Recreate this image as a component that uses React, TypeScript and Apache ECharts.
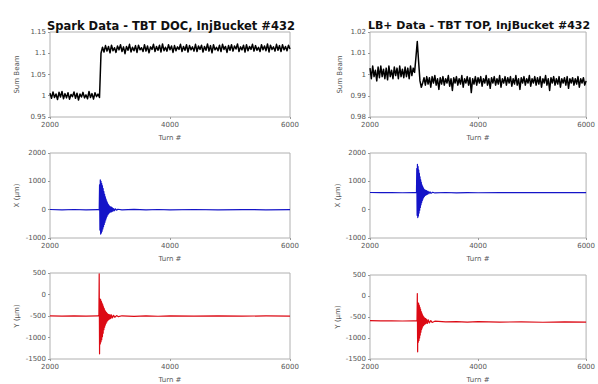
import React, { useEffect, useRef } from "react";
import * as echarts from "echarts";

const TURN_START = 2000;
const TURN_STEP = 25;
const xTicks = [2000, 4000, 6000];

const titleDoc = "Spark Data - TBT DOC, InjBucket #432";
const titleTop = "LB+ Data - TBT TOP, InjBucket #432";

// Sum signal, Spark DOC (one value every 25 turns, 2000..6000)
const sumDoc = [
  1.006, 0.994, 1.009, 0.996, 1.004, 0.991, 1.008, 0.997,
  1.010, 0.993, 1.005, 0.995, 1.007, 0.992, 1.003, 0.998,
  1.009, 0.994, 1.006, 0.990, 1.004, 0.997, 1.008, 0.995,
  1.002, 0.993, 1.010, 0.996, 1.005, 0.992, 1.007, 0.998,
  1.004, 0.996,
  1.100, 1.114, 1.103, 1.118, 1.105, 1.116, 1.101, 1.119,
  1.106, 1.113, 1.102, 1.117, 1.108, 1.120, 1.104, 1.115,
  1.099, 1.116, 1.107, 1.121, 1.103, 1.114, 1.106, 1.118,
  1.102, 1.119, 1.108, 1.113, 1.104, 1.120, 1.105, 1.117,
  1.101, 1.115, 1.109, 1.121, 1.104, 1.116, 1.107, 1.119,
  1.103, 1.122, 1.106, 1.114, 1.105, 1.120, 1.108, 1.117,
  1.102, 1.118, 1.106, 1.115, 1.109, 1.121, 1.104, 1.116,
  1.107, 1.120, 1.103, 1.118, 1.108, 1.115, 1.105, 1.121,
  1.104, 1.117, 1.109, 1.119, 1.103, 1.116, 1.107, 1.122,
  1.105, 1.118, 1.101, 1.120, 1.108, 1.114, 1.106, 1.119,
  1.104, 1.121, 1.109, 1.116, 1.102, 1.118, 1.107, 1.120,
  1.105, 1.117, 1.110, 1.122, 1.104, 1.115, 1.108, 1.119,
  1.103, 1.120, 1.106, 1.116, 1.109, 1.121, 1.105, 1.118,
  1.107, 1.114, 1.104, 1.120, 1.108, 1.117, 1.106, 1.122,
  1.103, 1.119, 1.109, 1.115, 1.105, 1.121, 1.107, 1.118,
  1.104, 1.120, 1.108, 1.116, 1.106, 1.119, 1.110,
];

// Sum signal, LB+ TOP (one value every 25 turns, 2000..6000)
const sumTop = [
  1.003, 0.998, 1.004, 0.999, 1.002, 0.997, 1.0035, 0.9985,
  1.004, 0.999, 1.0025, 0.998, 1.003, 0.9975, 1.004, 0.999,
  1.002, 0.998, 1.0035, 0.9995, 1.003, 0.998, 1.004, 0.999,
  1.0025, 0.9985, 1.0035, 0.999, 1.003, 0.998, 1.004, 0.9995,
  1.003, 1.001,
  1.008, 1.0155, 1.006, 0.997, 0.994,
  0.996, 0.9985, 0.995, 0.999, 0.9955, 0.9985, 0.994, 0.999,
  0.996, 0.9995, 0.995, 0.998, 0.993, 0.9985, 0.9955, 0.999,
  0.995, 0.998, 0.996, 0.9995, 0.9945, 0.998, 0.9925, 0.9985,
  0.996, 0.999, 0.995, 0.998, 0.9955, 0.9995, 0.994, 0.998,
  0.996, 0.999, 0.995, 0.9985, 0.9915, 0.998, 0.9955, 0.999,
  0.995, 0.9985, 0.996, 0.999, 0.9945, 0.998, 0.996, 0.9995,
  0.995, 0.998, 0.9935, 0.9985, 0.996, 0.999, 0.995, 0.998,
  0.9955, 0.9995, 0.994, 0.998, 0.996, 0.999, 0.995, 0.9985,
  0.996, 0.999, 0.9945, 0.998, 0.9955, 0.9995, 0.995, 0.998,
  0.993, 0.9985, 0.996, 0.999, 0.995, 0.998, 0.996, 0.9995,
  0.9945, 0.998, 0.996, 0.999, 0.995, 0.9985, 0.9955, 0.999,
  0.994, 0.998, 0.996, 0.9995, 0.995, 0.998, 0.9925, 0.9985,
  0.996, 0.999, 0.995, 0.998, 0.9955, 0.999, 0.994, 0.998,
  0.996, 0.9985, 0.995, 0.999, 0.9935, 0.998, 0.996, 0.9985,
  0.995, 0.998, 0.9955, 0.999, 0.994, 0.998, 0.996, 0.9985,
  0.995, 0.997,
];

// X position, Spark DOC: [turn, um]
const xDoc: [number, number][] = [
  [2000, 5], [2200, -6], [2400, 5], [2600, -5], [2800, 4], [2820, -10],
  [2826, 880], [2832, -720], [2838, 1050], [2844, -860], [2850, 1000], [2856, -820],
  [2862, 920], [2868, -760], [2874, 840], [2880, -680], [2886, 740], [2892, -600],
  [2898, 640], [2904, -520], [2910, 540], [2916, -440], [2922, 450], [2928, -360],
  [2934, 370], [2940, -290], [2946, 300], [2952, -230], [2958, 240], [2964, -180],
  [2970, 190], [2976, -140], [2982, 150], [2988, -110], [2994, 120], [3000, -90],
  [3008, 100], [3016, -80], [3024, 90], [3032, -70], [3040, 60], [3050, -50],
  [3060, 40], [3075, -35], [3090, 30], [3110, -20], [3130, 15],
  [3200, -10], [3400, 8], [3600, -8], [3800, 6], [4000, -6], [4400, 5],
  [4800, -5], [5200, 4], [5600, -4], [6000, 3],
];

// X position, LB+ TOP: [turn, um]
const xTop: [number, number][] = [
  [2000, 605], [2200, 598], [2400, 604], [2600, 597], [2800, 603], [2860, 600],
  [2866, 1450], [2872, -200], [2878, 1600], [2884, -280], [2890, 1520], [2896, -220],
  [2902, 1400], [2908, -120], [2914, 1280], [2920, -20], [2926, 1160], [2932, 80],
  [2938, 1050], [2944, 170], [2950, 960], [2956, 250], [2962, 880], [2968, 320],
  [2974, 820], [2980, 380], [2986, 770], [2992, 430], [2998, 730], [3006, 470],
  [3014, 700], [3022, 500], [3030, 680], [3040, 520], [3050, 670], [3060, 540],
  [3075, 650], [3090, 560], [3110, 630], [3130, 575], [3160, 615], [3200, 590],
  [3400, 606], [3600, 596], [3800, 604], [4000, 597], [4400, 603], [4800, 598],
  [5200, 602], [5600, 598], [6000, 601],
];

// Y position, Spark DOC: [turn, um]
const yDoc: [number, number][] = [
  [2000, -496], [2200, -505], [2400, -497], [2600, -504], [2800, -497], [2815, -500],
  [2820, 480], [2826, -1380], [2832, -100], [2838, -1150], [2844, -120], [2850, -1100],
  [2856, -160], [2862, -1050], [2868, -200], [2874, -980], [2880, -240], [2886, -900],
  [2892, -290], [2898, -820], [2904, -330], [2910, -760], [2916, -370], [2922, -710],
  [2928, -400], [2934, -670], [2940, -420], [2946, -640], [2952, -440], [2958, -610],
  [2964, -455], [2972, -590], [2980, -465], [2990, -575], [3000, -470], [3012, -560],
  [3025, -475], [3040, -545], [3060, -485], [3080, -530], [3110, -490], [3140, -515],
  [3200, -495], [3400, -507], [3600, -496], [3800, -506], [4000, -497], [4400, -505],
  [4800, -497], [5200, -504], [5600, -498], [6000, -503],
];

// Y position, LB+ TOP: [turn, um]
const yTop: [number, number][] = [
  [2000, -588], [2200, -594], [2400, -589], [2600, -595], [2800, -590], [2870, -592],
  [2876, 60], [2882, -1330], [2888, -160], [2894, -1100], [2900, -180], [2906, -1060],
  [2912, -220], [2918, -1000], [2924, -270], [2930, -930], [2936, -320], [2942, -860],
  [2948, -370], [2954, -800], [2960, -410], [2966, -760], [2972, -450], [2978, -720],
  [2984, -480], [2990, -700], [2998, -505], [3006, -680], [3014, -525], [3022, -665],
  [3030, -540], [3040, -655], [3050, -555], [3065, -650], [3080, -570], [3100, -640],
  [3125, -585], [3150, -630], [3200, -600], [3400, -615], [3600, -608], [3800, -620],
  [4000, -612], [4400, -622], [4800, -615], [5200, -625], [5600, -618], [6000, -624],
];

const FONT = "DejaVu Sans";

export default function App() {
  const ref = useRef<HTMLDivElement>(null);
  useEffect(() => {
    if (!ref.current) return;
    const chart = echarts.init(ref.current, null, { renderer: "svg" });

    const grids = [
      { left: 50, top: 32, width: 240, height: 85 },
      { left: 370, top: 32, width: 217, height: 85 },
      { left: 50, top: 153, width: 240, height: 85 },
      { left: 370, top: 153, width: 217, height: 85 },
      { left: 50, top: 273, width: 240, height: 87 },
      { left: 370, top: 275, width: 217, height: 85 },
    ].map((g) => ({ ...g, show: true, borderColor: "#b0b0b0", borderWidth: 1, containLabel: false }));

    const yDefs = [
      { name: "Sum Beam", min: 0.95, max: 1.15, interval: 0.05, gap: 30 },
      { name: "Sum Beam", min: 0.98, max: 1.02, interval: 0.01, gap: 27 },
      { name: "X (µm)", min: -1000, max: 2000, interval: 1000, gap: 30 },
      { name: "X (µm)", min: -1000, max: 2000, interval: 1000, gap: 27 },
      { name: "Y (µm)", min: -1500, max: 500, interval: 500, gap: 30 },
      { name: "Y (µm)", min: -1500, max: 500, interval: 500, gap: 27 },
    ];

    const labelStyle = { fontFamily: FONT, fontSize: 7, color: "#555" };
    const fmt = (v: number) => String(Math.round(v * 1000) / 1000);

    const xAxis = grids.map((_, i) => ({
      type: "value",
      gridIndex: i,
      min: xTicks[0],
      max: xTicks[xTicks.length - 1],
      interval: xTicks[1] - xTicks[0],
      name: "Turn #",
      nameLocation: "middle",
      nameGap: 17,
      nameTextStyle: { fontFamily: FONT, fontSize: 7, color: "#555" },
      axisLine: { show: false, onZero: false },
      axisTick: { show: true, length: 2, lineStyle: { color: "#999" } },
      splitLine: { show: false },
      axisLabel: { ...labelStyle, margin: 4, formatter: fmt },
    }));

    const yAxis = yDefs.map((d, i) => ({
      type: "value",
      gridIndex: i,
      min: d.min,
      max: d.max,
      interval: d.interval,
      name: d.name,
      nameLocation: "middle",
      nameGap: d.gap,
      nameTextStyle: { fontFamily: FONT, fontSize: 7, color: "#555" },
      axisLine: { show: false, onZero: false },
      axisTick: { show: true, length: 2, lineStyle: { color: "#999" } },
      splitLine: { show: false },
      axisLabel: { ...labelStyle, margin: 4, formatter: fmt },
    }));

    const toPairs = (arr: number[]) => arr.map((v, i) => [TURN_START + i * TURN_STEP, v]);

    const lineSeries = (i: number, data: any[], color: string, width: number) => ({
      type: "line",
      xAxisIndex: i,
      yAxisIndex: i,
      data,
      showSymbol: false,
      symbol: "none",
      lineStyle: { color, width, join: "round" },
      silent: true,
    });

    chart.setOption({
      animation: false,
      backgroundColor: "#ffffff",
      title: [
        {
          text: titleDoc,
          left: 166,
          top: 15,
          textAlign: "center",
          textStyle: { fontFamily: FONT, fontSize: 11.5, fontWeight: "bold", color: "#111" },
        },
        {
          text: titleTop,
          left: 474,
          top: 15,
          textAlign: "center",
          textStyle: { fontFamily: FONT, fontSize: 11, fontWeight: "bold", color: "#111" },
        },
      ],
      grid: grids,
      xAxis,
      yAxis,
      series: [
        lineSeries(0, toPairs(sumDoc), "#000000", 1.5),
        lineSeries(1, toPairs(sumTop), "#000000", 1.5),
        lineSeries(2, xDoc, "#1414c8", 1.2),
        lineSeries(3, xTop, "#1414c8", 1.2),
        lineSeries(4, yDoc, "#dc0a14", 1.2),
        lineSeries(5, yTop, "#dc0a14", 1.2),
      ],
    });
    return () => chart.dispose();
  }, []);

  return (
    <div
      ref={ref}
      style={{ position: "absolute", left: 0, top: 0, width: 598, height: 384, background: "#fff" }}
    />
  );
}
